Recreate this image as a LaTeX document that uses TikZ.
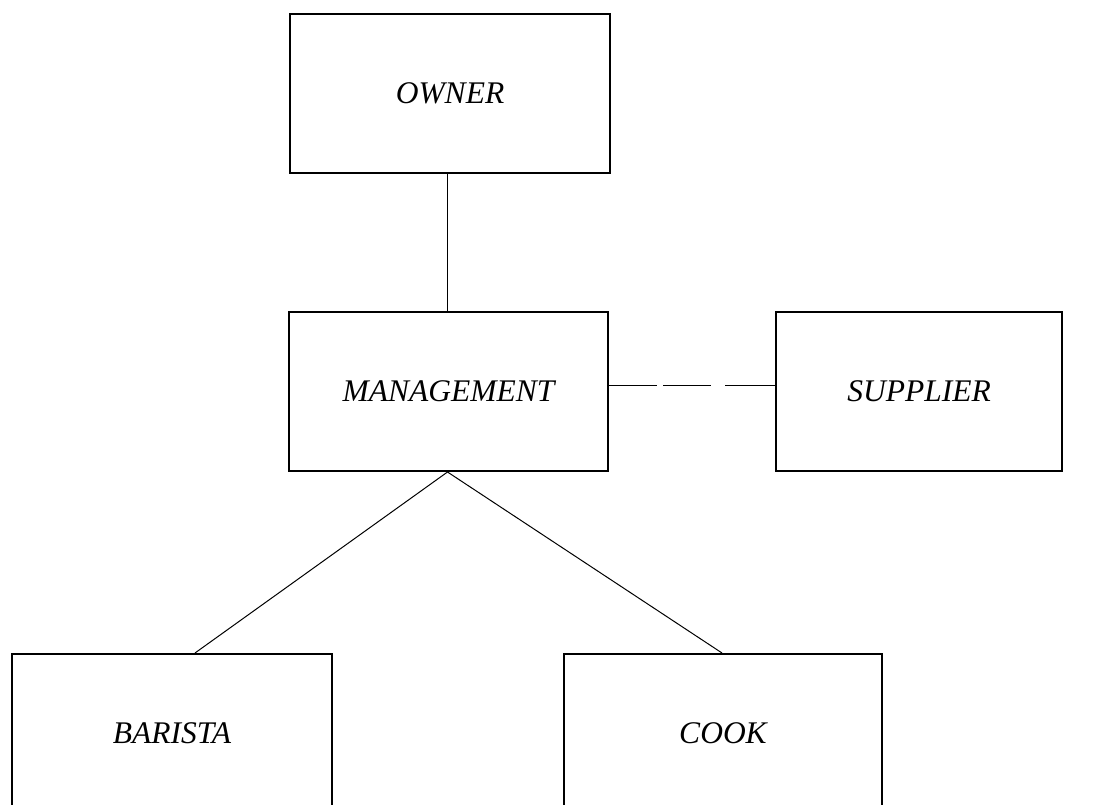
\documentclass[tikz,border=0pt]{standalone}
\usepackage{fontspec}
\setmainfont{Liberation Serif}
\begin{document}
\begin{tikzpicture}[x=1pt,y=-1pt,
  box/.style={draw, line width=2pt, rectangle, inner sep=0pt,
    font=\fontsize{31.5}{36}\selectfont\itshape},
  link/.style={line width=1pt}]
\useasboundingbox (0,0) rectangle (1096,805);
\clip (0,0) rectangle (1096,805);
\node[box, minimum width=320pt, minimum height=159pt] (owner) at (450,93.5) {OWNER};
\node[box, minimum width=319pt, minimum height=159pt] (management) at (448.5,391.5) {MANAGEMENT};
\node[box, minimum width=286pt, minimum height=159pt] (supplier) at (919,391.5) {SUPPLIER};
\node[box, minimum width=320pt, minimum height=159pt] (barista) at (172,733.5) {BARISTA};
\node[box, minimum width=318pt, minimum height=159pt] (cook) at (723,733.5) {COOK};
\draw[link] ([xshift=-1.5pt]management.north) -- ([xshift=-1.5pt]management.north |- owner.south);
\draw[link] ([xshift=-1pt]management.south) -- ([xshift=23pt]barista.north);
\draw[link] ([xshift=-1pt]management.south) -- ([xshift=-1pt]cook.north);
\draw[link, dash pattern=on 48pt off 6pt on 48pt off 14pt on 60pt]
  ([yshift=6.5pt]management.east) -- ([yshift=6.5pt]management.east -| supplier.west);
\end{tikzpicture}
\end{document}
